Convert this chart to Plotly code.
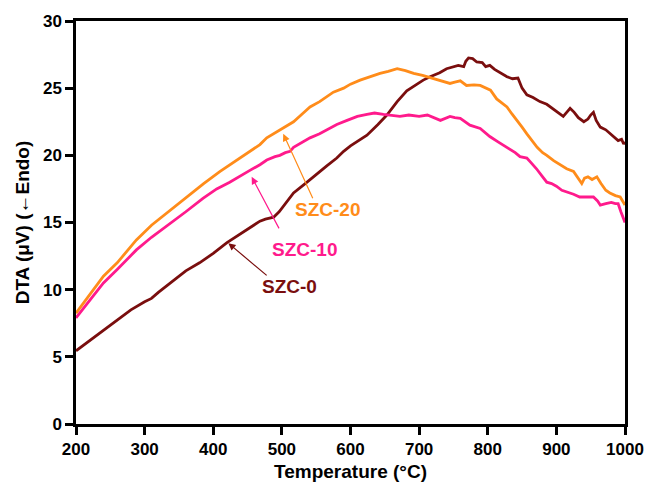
import plotly.graph_objects as go

# SZC-0
t0 = [200, 250, 280, 300, 310, 320, 340, 360, 380, 400, 420, 444, 454, 468, 476, 488, 496, 502,
      517, 534, 550, 565, 580, 590, 600, 614, 624, 640, 653, 668, 682, 697, 706, 716, 730, 740,
      750, 757, 765, 768, 772, 778, 784, 792, 797, 803, 810, 820, 828, 836, 844, 850, 857, 866,
      876, 886, 896, 905, 910, 915, 920, 926, 932, 940, 946, 950, 954, 958, 964, 972, 983, 990,
      995, 998, 1000]
v0 = [5.45, 7.35, 8.5, 9.1, 9.35, 9.8, 10.6, 11.4, 12.0, 12.7, 13.5, 14.3, 14.6, 15.1, 15.25,
      15.4, 15.8, 16.2, 17.2, 17.9, 18.6, 19.2, 19.8, 20.3, 20.7, 21.2, 21.5, 22.3, 23.0, 24.0,
      24.8, 25.3, 25.6, 25.85, 26.15, 26.45, 26.6, 26.7, 26.6, 27.0, 27.25, 27.2, 26.95, 26.9,
      26.6, 26.7, 26.4, 26.1, 25.85, 25.7, 25.75, 25.0, 24.5, 24.3, 24.0, 23.8, 23.4, 23.1,
      22.9, 23.2, 23.5, 23.2, 22.8, 22.5, 22.7, 23.0, 23.2, 22.6, 22.1, 21.9, 21.4, 21.1, 21.2,
      20.85, 21.0]

# SZC-10
t10 = [200, 220, 240, 260, 288, 310, 337, 360, 385, 405, 424, 440, 454, 468, 478, 490, 497, 505,
       512, 517, 530, 541, 555, 565, 580, 595, 610, 624, 635, 648, 660, 672, 685, 700, 712, 722,
       731, 745, 752, 760, 774, 789, 796, 803, 815, 828, 840, 847, 857, 864, 871, 880, 886, 893,
       900, 908, 915, 925, 934, 944, 954, 960, 964, 972, 980, 986, 990, 994, 1000]
v10 = [7.9, 9.2, 10.5, 11.5, 12.96, 13.9, 14.9, 15.8, 16.8, 17.5, 18.0, 18.5, 18.9, 19.3, 19.65,
       19.9, 20.0, 20.2, 20.3, 20.6, 21.0, 21.3, 21.6, 21.9, 22.3, 22.6, 22.9, 23.05, 23.15,
       23.05, 23.0, 22.9, 23.0, 22.9, 23.0, 22.8, 22.6, 22.9, 22.8, 22.75, 22.25, 22.0, 21.7,
       21.4, 21.0, 20.6, 20.2, 19.9, 19.8, 19.4, 19.0, 18.4, 18.0, 17.9, 17.7, 17.4, 17.3, 17.1,
       16.9, 16.9, 16.9, 16.6, 16.3, 16.4, 16.5, 16.4, 16.4, 15.8, 15.0]

# SZC-20
t20 = [200, 220, 240, 260, 288, 310, 337, 360, 386, 410, 434, 455, 468, 478, 497, 517, 530, 541,
       555, 565, 575, 590, 600, 614, 628, 643, 655, 668, 680, 692, 705, 721, 733, 745, 752, 760,
       769, 780, 789, 797, 804, 813, 820, 828, 835, 843, 850, 857, 865, 872, 880, 886, 896, 905,
       915, 925, 932, 937, 941, 946, 952, 959, 965, 972, 978, 986, 993, 997, 1000]
v20 = [8.25, 9.6, 11.0, 12.0, 13.7, 14.8, 15.9, 16.9, 17.9, 18.8, 19.65, 20.4, 20.8, 21.3, 21.9,
       22.5, 23.1, 23.6, 24.0, 24.36, 24.7, 25.0, 25.3, 25.6, 25.85, 26.1, 26.25, 26.45, 26.3,
       26.1, 25.95, 25.7, 25.55, 25.35, 25.45, 25.55, 25.2, 25.25, 25.2, 25.0, 24.85, 24.2,
       23.95, 23.6, 23.1, 22.6, 22.1, 21.6, 21.1, 20.6, 20.2, 20.0, 19.6, 19.3, 19.0, 18.8,
       18.3, 17.9, 18.3, 18.4, 18.2, 18.4, 17.9, 17.4, 17.2, 17.0, 16.9, 16.6, 16.3]

names = ["SZC-0", "SZC-10", "SZC-20"]
colors = ["#7a0e0e", "#ff1a8c", "#ff8c1a"]

# label annotations: arrow head (x, y), arrow tail (x, y), label centre (x, y)
arrow_heads = [(422, 13.46), (456, 18.4), (502, 21.6)]
arrow_tails = [(480, 10.97), (497, 14.45), (546, 16.7)]
label_pos = [(511, 10.2), (533, 13.0), (567, 15.95)]

fig = go.Figure()
for t, v, n, c in zip([t0, t10, t20], [v0, v10, v20], names, colors):
    fig.add_trace(go.Scatter(x=t, y=v, mode="lines", name=n,
                             line=dict(color=c, width=2.8)))

for (hx, hy), (tx, ty), (lx, ly), n, c in zip(arrow_heads, arrow_tails, label_pos, names, colors):
    fig.add_annotation(x=hx, y=hy, ax=tx, ay=ty, axref="x", ayref="y", xref="x", yref="y",
                       text="", showarrow=True, arrowhead=2, arrowsize=1.2, arrowwidth=1.2,
                       arrowcolor=c)
    fig.add_annotation(x=lx, y=ly, xref="x", yref="y", text=n, showarrow=False,
                       font=dict(family="Liberation Sans", size=19, color=c, weight="bold"))

axis_common = dict(showline=True, linewidth=2.5, linecolor="black", mirror=True,
                   ticks="outside", ticklen=8, tickwidth=2.5, tickcolor="black",
                   showgrid=False, zeroline=False, automargin=False,
                   tickfont=dict(family="Liberation Sans", size=17, color="black", weight="bold"))

fig.update_layout(
    width=645, height=482,
    margin=dict(l=76, r=20, t=21, b=58),
    plot_bgcolor="white", paper_bgcolor="white",
    showlegend=False,
    xaxis=dict(range=[200, 1000], dtick=100, tick0=200,
               title=dict(text="Temperature (°C)", standoff=7,
                          font=dict(family="Liberation Sans", size=19, color="black", weight="bold")),
               **axis_common),
    yaxis=dict(range=[0, 30], dtick=5, tick0=0,
               title=dict(text="DTA (μV) (←Endo)", standoff=9,
                          font=dict(family="Liberation Sans", size=19, color="black", weight="bold")),
               **axis_common),
)

fig.write_html("out.html", config={"displayModeBar": False},
               post_script="document.body.style.margin='0px';document.body.style.overflow='hidden';")
